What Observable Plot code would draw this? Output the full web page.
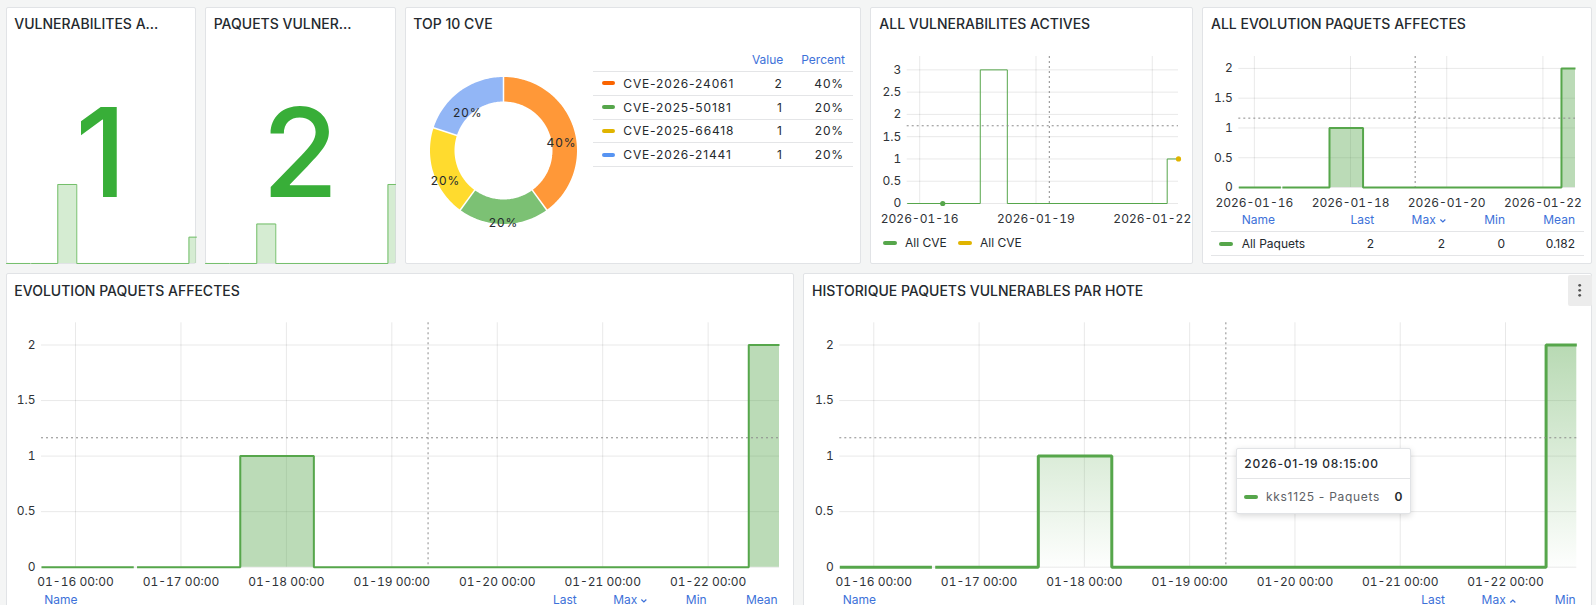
<!DOCTYPE html>
<html><head><meta charset="utf-8">
<script src="https://cdn.jsdelivr.net/npm/d3@7"></script>
<script src="https://cdn.jsdelivr.net/npm/@observablehq/plot@0.6"></script>
<style>
html,body{margin:0;padding:0;background:#f4f5f5;width:1596px;height:605px;overflow:hidden;font-family:Inter,"Noto Sans",sans-serif;color:#24292e;}
.panel{position:absolute;background:#fff;border:1px solid #e1e3e6;border-radius:2px;box-sizing:border-box;}
.t{position:absolute;white-space:nowrap;}
.mk{position:absolute;height:4px;border-radius:2px;}
.hl{position:absolute;height:1px;background:#e4e5e7;}
svg{overflow:visible;}
.donut text{letter-spacing:0.9px;}
</style></head>
<body>
<script>
// ---------------- DATA ----------------
const timeDomain = ["2026-01-15T16:15:00Z", "2026-01-22T16:15:00Z"];

const paquetsTime  = ["2026-01-15T16:15:00Z","2026-01-16T13:15:00Z","2026-01-16T13:30:00Z","2026-01-16T14:00:00Z","2026-01-17T13:30:00Z","2026-01-18T06:15:00Z","2026-01-22T09:15:00Z","2026-01-22T16:15:00Z"];
const paquetsValue = [0, 0, null, 0, 1, 0, 2, 2];

const vulnTime  = ["2026-01-15T16:15:00Z","2026-01-16T13:15:00Z","2026-01-16T13:30:00Z","2026-01-16T14:15:00Z","2026-01-16T14:30:00Z","2026-01-16T14:45:00Z","2026-01-17T13:30:00Z","2026-01-18T06:15:00Z","2026-01-22T09:15:00Z","2026-01-22T16:00:00Z"];
const vulnValue = [0, 0, null, 0, null, 0, 3, 0, 1, 1];

const cveYellowTime  = ["2026-01-22T16:15:00Z"];
const cveYellowValue = [1];

const cveNames  = ["CVE-2026-24061","CVE-2025-50181","CVE-2025-66418","CVE-2026-21441"];
const cveValues = [2, 1, 1, 1];

const dayTicks      = ["2026-01-16","2026-01-17","2026-01-18","2026-01-19","2026-01-20","2026-01-21","2026-01-22"];
const twoDayTicks   = ["2026-01-16","2026-01-18","2026-01-20","2026-01-22"];
const threeDayTicks = ["2026-01-16","2026-01-19","2026-01-22"];
const yTicks2 = [0, 0.5, 1, 1.5, 2];
const yTicks3 = [0, 0.5, 1, 1.5, 2, 2.5, 3];

const legendCols   = ["Name","Last","Max","Min","Mean"];
const paquetsStats = ["2","2","0","0.182"];

const cursorTime   = "2026-01-19T08:15:00Z";
const cursorValue2 = 1.165;
const cursorValue3 = 1.745;
const tooltipTitle = "2026-01-19 08:15:00";
const tooltipSeries = "kks1125 - Paquets";
const tooltipValue = "0";

// ---------------- STYLE ----------------
const GREEN = "#56A64B", SPARK = "#73BF69", STATGREEN = "#38ae38", YELLOW = "#E0B400";
const legendColors = ["#FA6400", "#56A64B", "#E0B400", "#5794F2"];
const sliceColors  = ["#FF9838", "#7CC174", "#FFDB2E", "#92B6F6"];
const LINK = "#3d71d9";
const FONT = "Inter, 'Noto Sans', sans-serif";
const SPACED = 0.85;

const parse = s => new Date(s);
const series = (ts, vs) => ts.map((t, i) => ({t: parse(t), v: vs[i]}));
const paquets = series(paquetsTime, paquetsValue);
const vulns = series(vulnTime, vulnValue);
const yellow = series(cveYellowTime, cveYellowValue);
const isolated = s => s.filter((d, i) => d.v != null && (i === 0 || s[i-1].v == null) && (i === s.length-1 || s[i+1].v == null));

// ---------------- HELPERS ----------------
function panel(x, y, w, h) {
  const d = document.createElement("div");
  d.className = "panel";
  Object.assign(d.style, {left: x+"px", top: y+"px", width: w+"px", height: h+"px"});
  document.body.appendChild(d);
}
function txt(str, x, cy, o = {}) {
  const size = o.size || 12, lh = Math.round(size * 1.25);
  const d = document.createElement("div");
  d.className = "t";
  if (o.html) d.innerHTML = str; else d.textContent = str;
  Object.assign(d.style, {left: x+"px", top: (cy - lh/2)+"px", fontSize: size+"px", lineHeight: lh+"px",
    fontWeight: o.weight || 400, color: o.color || "#24292e", letterSpacing: (o.ls || 0)+"px"});
  if (o.anchor === "end") d.style.transform = "translateX(-100%)";
  if (o.anchor === "middle") d.style.transform = "translateX(-50%)";
  document.body.appendChild(d);
  return d;
}
function marker(x, cy, color, w = 13.4) {
  const d = document.createElement("div");
  d.className = "mk";
  Object.assign(d.style, {left: x+"px", top: (cy-2)+"px", width: w+"px", background: color});
  document.body.appendChild(d);
}
function hline(x1, x2, y) {
  const d = document.createElement("div");
  d.className = "hl";
  Object.assign(d.style, {left: x1+"px", top: y+"px", width: (x2-x1)+"px"});
  document.body.appendChild(d);
}
function place(el, left, top) {
  el.style.position = "absolute"; el.style.left = left+"px"; el.style.top = top+"px";
  document.body.appendChild(el);
}
const chev = up => `<svg width="8" height="6" style="margin-left:3px;vertical-align:middle;overflow:visible"><path d="${up ? "M1.5 4.5 L4 2 L6.5 4.5" : "M1.5 1.5 L4 4 L6.5 1.5"}" stroke="${LINK}" stroke-width="1.2" fill="none"/></svg>`;
function title(str, x, cy) { txt(str, x, cy, {size: 14, weight: 500}); }

function timeChart(c) {
  const chart = Plot.plot({
    width: c.width, height: c.height,
    marginLeft: c.ml, marginRight: c.mr, marginTop: c.mt, marginBottom: c.mb,
    style: {fontFamily: FONT, fontSize: "12px", color: "#2f3337", background: "transparent", overflow: "visible"},
    x: {type: "utc", domain: timeDomain.map(parse), label: null},
    y: {domain: [0, c.yMax], label: null},
    marks: [
      Plot.gridX(c.xTicks.map(d => parse(d + "T00:00:00Z")), {stroke: "#000", strokeOpacity: 0.09}),
      Plot.gridY(c.yTicks, {stroke: "#000", strokeOpacity: 0.09}),
      ...c.marks,
      Plot.ruleX([parse(cursorTime)], {stroke: "#8a8a8a", strokeDasharray: "2,3"}),
      Plot.ruleY([c.cursor], {stroke: "#8a8a8a", strokeDasharray: "2,3"}),
      Plot.axisX(c.xTicks.map(d => parse(d + "T00:00:00Z")), {tickSize: 0, tickPadding: 10.5, label: null, tickFormat: d3.utcFormat(c.fmt)}),
      Plot.axisY(c.yTicks, {tickSize: 0, tickPadding: 6, label: null, tickFormat: d => String(d)})
    ]
  });
  place(chart, c.left, c.top);
  return chart;
}
function pathMarks(data, color, width, fill) {
  const m = [];
  if (fill) m.push(Plot.areaY(data, {x: "t", y1: 0, y2: "v", curve: "step-after", fill, fillOpacity: fill.startsWith("url") ? 1 : 0.4}));
  m.push(Plot.lineY(data, {x: "t", y: "v", curve: "step-after", stroke: color, strokeWidth: width, strokeLinecap: "butt", strokeLinejoin: "miter"}));
  return m;
}
function sparkline(data, left, top, width, height) {
  const yMax = d3.max(data, d => d.v);
  const chart = Plot.plot({
    width, height, margin: 0,
    style: {background: "transparent", overflow: "visible"},
    x: {type: "utc", domain: timeDomain.map(parse), axis: null},
    y: {domain: [0, yMax], axis: null},
    marks: [
      Plot.areaY(data, {x: "t", y1: 0, y2: "v", curve: "step-after", fill: SPARK, fillOpacity: 0.3}),
      Plot.lineY(data, {x: "t", y: "v", curve: "step-after", stroke: SPARK, strokeWidth: 1})
    ]
  });
  place(chart, left, top);
}
const lastValue = s => s.filter(d => d.v != null).at(-1).v;

// ---------------- PANELS ----------------
const U = 66.47, G = 9, X0 = 5.7, R1 = 7.3, R1H = 256.7, R2 = 273.3;
const px = c => X0 + c * U;
const pw = n => n * U - G;

// Panel 1 & 2 : stats
panel(px(0), R1, pw(3), R1H);
panel(px(3), R1, pw(3), R1H);
sparkline(vulns, px(0), 184.3, pw(3), 79);
sparkline(paquets, px(3), 184.3, pw(3), 79);
title("VULNERABILITES A\u2026", px(0) + 8.6, 24.3);
title("PAQUETS VULNER\u2026", px(3) + 8.6, 24.3);
txt(String(lastValue(vulns)), px(0) + pw(3)/2, 152, {size: 124, weight: 500, color: STATGREEN, anchor: "middle"});
txt(String(lastValue(paquets)), px(3) + pw(3)/2, 152, {size: 124, weight: 500, color: STATGREEN, anchor: "middle"});

// Panel 3 : donut
panel(px(6), R1, pw(7), R1H);
title("TOP 10 CVE", px(6) + 8.8, 24.3);
{
  const total = d3.sum(cveValues);
  const arcs = d3.pie().sort(null).value(d => d)(cveValues).map((a, i) => ({...a, name: cveNames[i]}));
  const rIn = 49, rOut = 73.5, rMid = (rIn + rOut) / 2;
  const ring = arcs.flatMap(a => d3.range(0, 61).map(k => {
    const ang = a.startAngle + (a.endAngle - a.startAngle) * k / 60;
    return {name: a.name, x: Math.sin(ang) * rMid, y: Math.cos(ang) * rMid};
  }));
  const mid = a => (a.startAngle + a.endAngle) / 2;
  const donut = Plot.plot({
    width: 180, height: 180, margin: 0, className: "donut",
    style: {fontFamily: FONT, fontSize: "12px", background: "transparent", overflow: "visible"},
    x: {domain: [-90, 90], axis: null},
    y: {domain: [-90, 90], axis: null},
    color: {domain: cveNames, range: sliceColors},
    marks: [
      Plot.line(ring, {x: "x", y: "y", z: "name", stroke: "name", strokeWidth: rOut - rIn, strokeLinecap: "butt"}),
      Plot.link(arcs, {x1: a => Math.sin(a.startAngle) * (rIn - 1), y1: a => Math.cos(a.startAngle) * (rIn - 1),
                       x2: a => Math.sin(a.startAngle) * (rOut + 1), y2: a => Math.cos(a.startAngle) * (rOut + 1),
                       stroke: "white", strokeWidth: 1.5}),
      Plot.text(arcs, {x: a => Math.sin(mid(a)) * 61, y: a => Math.cos(mid(a)) * 61, dy: 12,
                       text: a => d3.format(".0%")(a.value / total), fill: "#24292e", fontSize: 12})
    ]
  });
  place(donut, 503 - 90, 150.2 - 90);

  txt("Value", 783.3, 59.3, {color: LINK, anchor: "end"});
  txt("Percent", 845, 59.3, {color: LINK, anchor: "end"});
  const pitch = 23.7;
  hline(593.3, 852.7, 71.3);
  cveNames.forEach((n, i) => {
    const cy = 83.4 + i * pitch;
    marker(601.7, cy, legendColors[i]);
    txt(n, 623.3, cy, {ls: SPACED});
    txt(String(cveValues[i]), 782.7, cy, {anchor: "end", ls: SPACED});
    txt(d3.format(".0%")(cveValues[i] / total), 844, cy, {anchor: "end", ls: SPACED});
    hline(593.3, 852.7, 71.3 + (i + 1) * pitch);
  });
}

// Panel 4 : all vulnerabilites actives
panel(px(13), R1, pw(5), R1H);
title("ALL VULNERABILITES ACTIVES", px(13) + 9.5, 24.3);
timeChart({left: 870, top: 44, width: 323, height: 181, ml: 36.7, mr: 15, mt: 12, mb: 22,
  yMax: 3.3, yTicks: yTicks3, xTicks: threeDayTicks, fmt: "%Y-%m-%d", cursor: cursorValue3,
  marks: [
    ...pathMarks(vulns, GREEN, 1, null),
    Plot.dot(isolated(vulns), {x: "t", y: "v", r: 2.6, fill: GREEN}),
    Plot.dot(isolated(yellow), {x: "t", y: "v", r: 2.6, fill: YELLOW})
  ]});
marker(883.3, 242.7, GREEN); txt("All CVE", 905, 242.7);
marker(958.3, 242.7, YELLOW); txt("All CVE", 980, 242.7);

// Panel 5 : all evolution paquets affectes
panel(px(18), R1, pw(6), R1H);
title("ALL EVOLUTION PAQUETS AFFECTES", px(18) + 8.8, 24.3);
timeChart({left: 1202, top: 44, width: 390, height: 165, ml: 36.3, mr: 17, mt: 12, mb: 22,
  yMax: 2.2, yTicks: yTicks2, xTicks: twoDayTicks, fmt: "%Y-%m-%d", cursor: cursorValue2,
  marks: pathMarks(paquets, GREEN, 2, GREEN)});
txt(legendCols[0], 1241.7, 219.3, {color: LINK});
txt(legendCols[1], 1374.3, 219.3, {color: LINK, anchor: "end"});
txt(legendCols[2] + chev(false), 1446.7, 219.3, {color: LINK, anchor: "end", html: true});
txt(legendCols[3], 1505, 219.3, {color: LINK, anchor: "end"});
txt(legendCols[4], 1575, 219.3, {color: LINK, anchor: "end"});
hline(1211, 1583.7, 231);
marker(1219.3, 243.7, GREEN);
txt("All Paquets", 1241.7, 243.7);
[1374, 1445, 1505, 1575].forEach((x, i) => txt(paquetsStats[i], x, 243.7, {anchor: "end"}));
hline(1211, 1583.7, 255.3);

// Panel 6 : evolution paquets affectes
panel(px(0), R2, pw(12), 360);
title("EVOLUTION PAQUETS AFFECTES", px(0) + 8.6, 291);
timeChart({left: 6, top: 310, width: 788, height: 285, ml: 35, mr: 15, mt: 12.3, mb: 28.3,
  yMax: 2.2, yTicks: yTicks2, xTicks: dayTicks, fmt: "%m-%d %H:%M", cursor: cursorValue2,
  marks: pathMarks(paquets, GREEN, 2, GREEN)});
txt(legendCols[0], 44.3, 599.3, {color: LINK});
txt(legendCols[1], 576.7, 599.3, {color: LINK, anchor: "end"});
txt(legendCols[2] + chev(false), 648.3, 599.3, {color: LINK, anchor: "end", html: true});
txt(legendCols[3], 706.7, 599.3, {color: LINK, anchor: "end"});
txt(legendCols[4], 777.7, 599.3, {color: LINK, anchor: "end"});

// Panel 7 : historique paquets vulnerables par hote
panel(px(12), R2, pw(12), 360);
title("HISTORIQUE PAQUETS VULNERABLES PAR HOTE", px(12) + 8.7, 291);
{
  const gradient = () => {
    const defs = d3.create("svg:defs");
    const g = defs.append("linearGradient").attr("id", "gradP7").attr("x1", 0).attr("y1", 0).attr("x2", 0).attr("y2", 1);
    g.append("stop").attr("offset", "0%").attr("stop-color", GREEN).attr("stop-opacity", 0.42);
    g.append("stop").attr("offset", "100%").attr("stop-color", GREEN).attr("stop-opacity", 0.01);
    return defs.node();
  };
  timeChart({left: 803, top: 310, width: 789, height: 285, ml: 36.3, mr: 15.7, mt: 12.3, mb: 28.3,
    yMax: 2.2, yTicks: yTicks2, xTicks: dayTicks, fmt: "%m-%d %H:%M", cursor: cursorValue2,
    marks: [gradient, ...pathMarks(paquets, GREEN, 3, "url(#gradP7)")]});
}
txt(legendCols[0], 842.7, 599.3, {color: LINK});
txt(legendCols[1], 1445, 599.3, {color: LINK, anchor: "end"});
txt(legendCols[2] + chev(true), 1516.7, 599.3, {color: LINK, anchor: "end", html: true});
txt(legendCols[3], 1575.7, 599.3, {color: LINK, anchor: "end"});

// panel menu button
{
  const b = document.createElement("div");
  Object.assign(b.style, {position: "absolute", left: "1568.3px", top: "275px", width: "23.4px", height: "30.7px", background: "#ececec", borderRadius: "2px"});
  b.innerHTML = `<svg width="23.4" height="30.7"><circle cx="11.7" cy="10.3" r="1.4" fill="#555"/><circle cx="11.7" cy="15.3" r="1.4" fill="#555"/><circle cx="11.7" cy="20.3" r="1.4" fill="#555"/></svg>`;
  document.body.appendChild(b);
}

// tooltip
{
  const tip = document.createElement("div");
  Object.assign(tip.style, {position: "absolute", left: "1235.7px", top: "447.7px", width: "175.3px", height: "66px",
    background: "#fff", border: "1px solid #e1e3e6", borderRadius: "2px", boxSizing: "border-box",
    boxShadow: "0 2px 6px rgba(0,0,0,0.15)"});
  document.body.appendChild(tip);
  txt(tooltipTitle, 1244.3, 463.7, {weight: 500, ls: 0.75});
  hline(1236.5, 1410.5, 478.3);
  marker(1244.3, 496.7, GREEN);
  txt(tooltipSeries, 1266, 496.7, {color: "#5d6166", ls: 0.7});
  txt(tooltipValue, 1402.3, 496.7, {anchor: "end", weight: 600});
}
</script>
</body></html>
